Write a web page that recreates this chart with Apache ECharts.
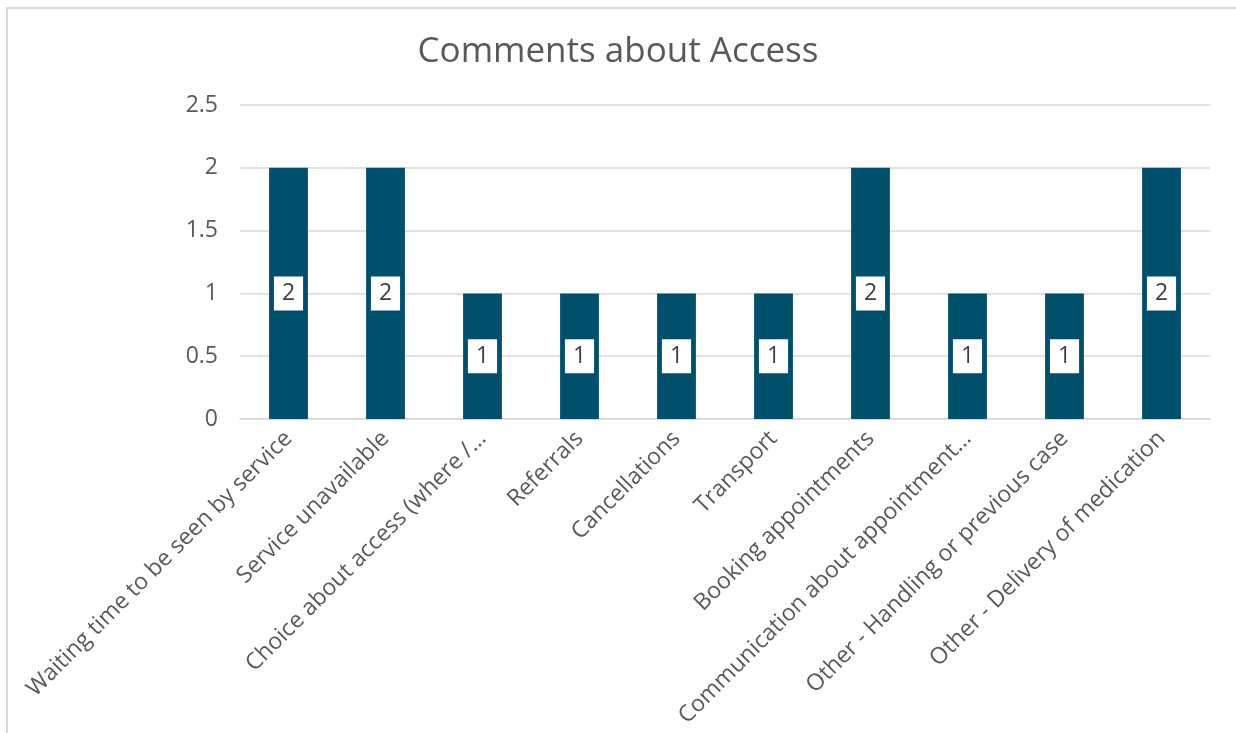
<!DOCTYPE html>
<html>
<head>
<meta charset="utf-8">
<script src="https://cdn.jsdelivr.net/npm/echarts@6/dist/echarts.min.js"></script>
<style>
html,body{margin:0;padding:0;background:#fff;overflow:hidden;}
#frame{position:absolute;left:6px;top:7px;width:1400px;height:900px;border:2px solid #d9d9d9;box-sizing:border-box;}
#chart{position:absolute;left:0;top:0;width:1236px;height:733px;}
</style>
</head>
<body>
<div id="frame"></div>
<div id="chart"></div>
<script>
const title = 'Comments about Access';
const categories = [
  'Waiting time to be seen by service',
  'Service unavailable',
  'Choice about access (where /…',
  'Referrals',
  'Cancellations',
  'Transport',
  'Booking appointments',
  'Communication about appointment…',
  'Other - Handling or previous case',
  'Other - Delivery of medication'
];
const values = [2, 2, 1, 1, 1, 1, 2, 1, 1, 2];
const yTicks = [0, 0.5, 1, 1.5, 2, 2.5];

const FONT = '"Open Sans", "Noto Sans", sans-serif';
const chart = echarts.init(document.getElementById('chart'), null, {renderer: 'canvas'});
chart.setOption({
  animation: false,
  backgroundColor: 'transparent',
  title: {
    text: title,
    left: 'center',
    top: 30,
    textStyle: {fontFamily: FONT, fontSize: 35, fontWeight: 'normal', color: '#595959'}
  },
  grid: {left: 240, right: 26, top: 105, bottom: 314, containLabel: false},
  xAxis: {
    type: 'category',
    data: categories,
    axisLine: {show: true, lineStyle: {color: '#d9d9d9', width: 1.5}},
    axisTick: {show: false},
    axisLabel: {
      rotate: 45, interval: 0, margin: 16,
      fontFamily: FONT, fontSize: 23, color: '#595959'
    }
  },
  yAxis: {
    type: 'value',
    min: 0, max: 2.5, interval: 0.5,
    axisLine: {show: false},
    axisTick: {show: false},
    splitLine: {lineStyle: {color: '#d9d9d9', width: 1.5}},
    axisLabel: {
      margin: 22,
      fontFamily: FONT, fontSize: 23, color: '#595959',
      formatter: v => yTicks.includes(v) ? String(v) : ''
    }
  },
  series: [{
    type: 'bar',
    data: values,
    barWidth: '40%',
    itemStyle: {color: '#004F6B'},
    label: {
      show: true,
      position: 'inside',
      fontFamily: FONT, fontSize: 23, color: '#404040',
      backgroundColor: '#ffffff',
      padding: [6, 8, 5, 8]
    }
  }]
});
</script>
</body>
</html>
